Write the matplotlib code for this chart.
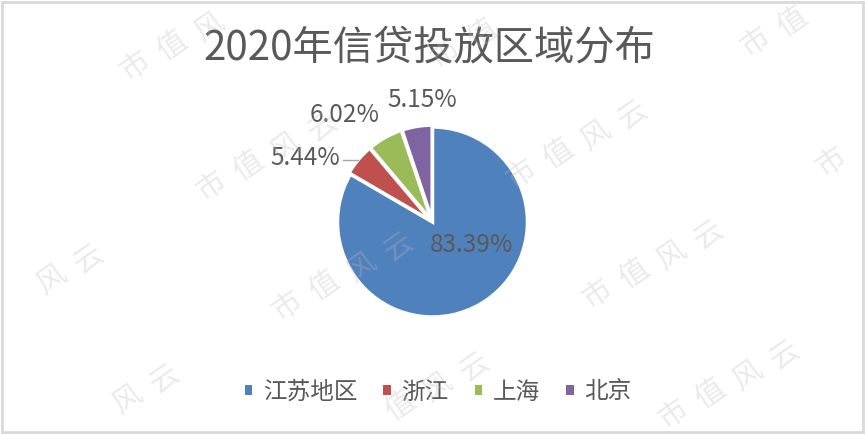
import numpy as np
import matplotlib.pyplot as plt
from matplotlib.patches import Patch, Rectangle

plt.rcParams['font.family'] = ['Noto Sans CJK SC', 'DejaVu Sans']

# ---------- data ----------
title = "2020年信贷投放区域分布"
regions = ["江苏地区", "浙江", "上海", "北京"]
shares = [83.39, 5.44, 6.02, 5.15]
colors = ["#4F81BD", "#C0504D", "#9BBB59", "#8064A2"]
label_pos = [(0.41, -0.24), (-0.97, 0.674), (-0.93, 1.13), (-0.105, 1.28)]

W, H = 865, 434
cx, cy, R = 432.5, 222, 95  # pie centre / radius in pixels

fig = plt.figure(figsize=(W / 100, H / 100), dpi=100)
ax = fig.add_axes([0, 0, 1, 1])

wedges, _ = ax.pie(
    shares,
    colors=colors,
    startangle=90,
    counterclock=False,
    explode=[0, 0.02, 0.02, 0.02],
    radius=1,
    wedgeprops=dict(edgecolor="white", linewidth=2.5),
)
ax.set_xlim(-cx / R, (W - cx) / R)
ax.set_ylim(-(H - cy) / R, cy / R)
ax.set_aspect("auto")
ax.axis("off")

text_color = "#595959"
for (x, y), v, i in zip(label_pos, shares, range(len(shares))):
    ha = "right" if i == 1 else "center"
    ax.text(x, y, f"{v:.2f}%", ha=ha, va="center", fontsize=17.5, color=text_color)

# leader line for the 浙江 slice
w = wedges[1]
mid = np.deg2rad((w.theta1 + w.theta2) / 2)
ex, ey = w.center[0] + np.cos(mid), w.center[1] + np.sin(mid)
ax.plot([label_pos[1][0] + 0.03, ex], [ey, ey], color="#a6a6a6", lw=1)

fig.text(429 / W, 1 - 48 / H, title, ha="center", va="center",
         fontsize=29, color=text_color)

handles = [Patch(facecolor=c, edgecolor="none") for c in colors]
fig.legend(handles, regions, loc="center", bbox_to_anchor=(438 / W, 1 - 392 / H),
           ncol=4, frameon=False, fontsize=17, labelcolor=text_color,
           handlelength=0.32, handleheight=0.32, handletextpad=0.45,
           columnspacing=1.1)

# watermark "市值风云"
a = np.array([310, -12])
b = np.array([76, 120])
base = np.array([267, 157])
ang = np.deg2rad(28)
step = 42
m = 17
for i in range(-2, 3):
    for j in range(-2, 4):
        c = base + i * a + j * b
        for k, ch in enumerate("市值风云"):
            px = c[0] + (k - 1.5) * step * np.cos(ang)
            py = c[1] - (k - 1.5) * step * np.sin(ang)
            if m < px < W - m and m < py < H - m:
                fig.text(px / W, 1 - py / H, ch, ha="center", va="center",
                         fontsize=21, rotation=35, color="#bbbbbb", alpha=0.3,
                         zorder=10)

# outer frame
fig.patches.append(Rectangle((2 / W, 2 / H), (W - 4) / W, (H - 4) / H,
                             transform=fig.transFigure, fill=False,
                             edgecolor="#d9d9d9", lw=2))

fig.savefig("out.png", dpi=100)
